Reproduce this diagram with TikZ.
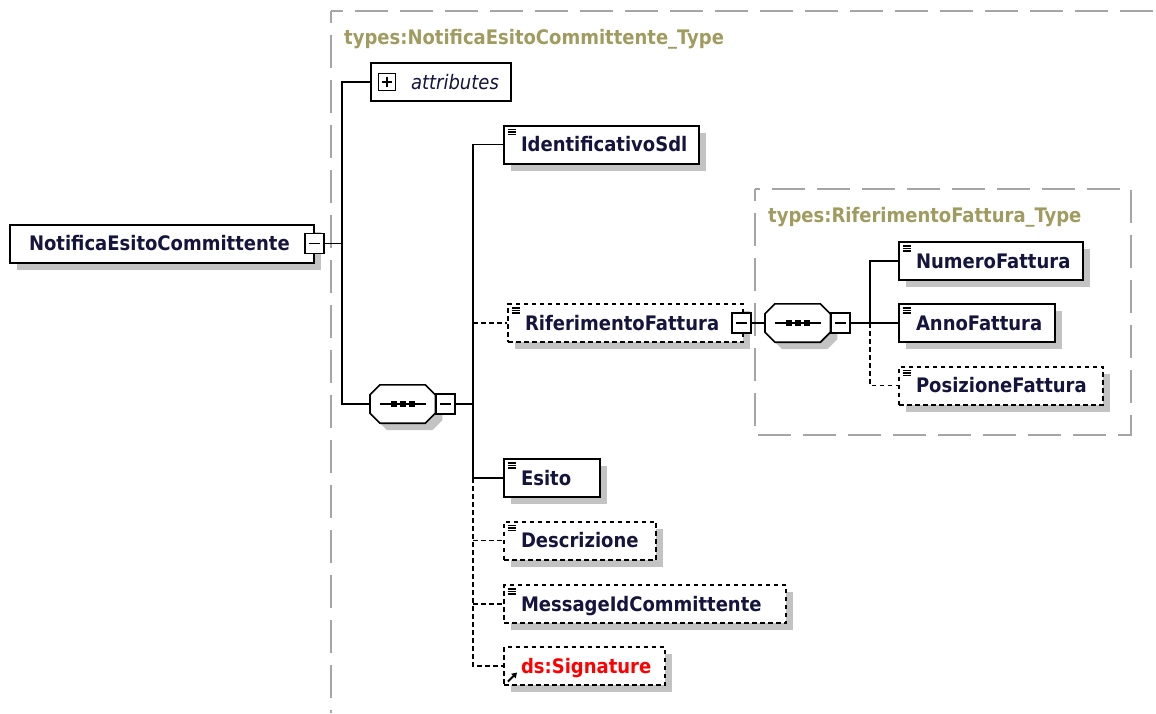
\documentclass[tikz,border=0pt]{standalone}
\usepackage{fontspec}
\newfontfamily\xsdfont{DejaVu Sans Condensed}
\usetikzlibrary{shadows,arrows.meta}
\definecolor{xsdtext}{RGB}{20,20,60}
\definecolor{xsdtitle}{RGB}{160,155,95}
\definecolor{xsdframe}{RGB}{165,165,165}
\definecolor{xsdshadow}{RGB}{195,195,195}
\definecolor{xsdred}{RGB}{255,0,0}

% octagon of a sequence compositor, #2 = extra shift
\newcommand{\octpath}[2]{([#2,xshift=10pt]#1.north west) -- ([#2,xshift=-10pt]#1.north east)
  -- ([#2,yshift=-10pt]#1.north east) -- ([#2,yshift=10pt]#1.south east)
  -- ([#2,xshift=-10pt]#1.south east) -- ([#2,xshift=10pt]#1.south west)
  -- ([#2,yshift=10pt]#1.south west) -- ([#2,yshift=-10pt]#1.north west) -- cycle}
\newcommand{\seqdraw}[1]{%
  \fill[xsdshadow] \octpath{#1}{xshift=7pt,yshift=-7pt};
  \filldraw[fill=white, line width=1.6pt] \octpath{#1}{xshift=0pt};
  \draw[line width=1.6pt] ([xshift=-23pt]#1.center) -- ([xshift=23pt]#1.center);
  \foreach \dx in {-9,0,9} \fill[black] ([xshift=\dx pt]#1.center) +(-3pt,-3pt) rectangle +(3pt,3pt);}

\tikzset{
  boxshadow/.style={drop shadow={shadow xshift=7pt, shadow yshift=-7pt, fill=xsdshadow, opacity=1}},
  xsdbox/.style={draw, line width=2pt, fill=white, anchor=west, minimum height=38pt,
    inner xsep=0pt, inner ysep=0pt, text width=#1, align=left, text height=14.5pt, text depth=0pt,
    font=\xsdfont\bfseries\fontsize{20pt}{24pt}\selectfont, text=xsdtext},
  elem/.style={xsdbox=#1, boxshadow, execute at begin node={\hspace*{17pt}},
    path picture={\foreach \dy in {4,6.5,9}
      \draw[solid, line width=1.1pt, black] ([xshift=3.5pt,yshift=-\dy pt]path picture bounding box.north west) -- ++(8pt,0pt);}},
  optelem/.style={elem=#1, dash pattern=on 4.5pt off 3.5pt},
  refelem/.style={xsdbox=#1, boxshadow, dash pattern=on 4.5pt off 3.5pt,
    execute at begin node={\hspace*{17pt}}, text=xsdred,
    path picture={\draw[solid, line width=1.8pt, black, -{Triangle[length=5pt,width=6pt]}]
      ([xshift=4pt,yshift=3.5pt]path picture bounding box.south west) -- ++(9pt,9pt);}},
  tog/.style={draw, fill=white, line width=1.6pt, minimum width=19pt, minimum height=20pt, inner sep=0pt,
    path picture={\draw[line width=1.6pt, black] ([xshift=4pt]path picture bounding box.west) -- ([xshift=-4pt]path picture bounding box.east);}},
  togplus/.style={tog, minimum width=17pt, minimum height=17pt,
    path picture={\draw[line width=1.6pt, black] ([xshift=3.5pt]path picture bounding box.west) -- ([xshift=-3.5pt]path picture bounding box.east);
      \draw[line width=1.6pt, black] ([yshift=-3.5pt]path picture bounding box.north) -- ([yshift=3.5pt]path picture bounding box.south);}},
  seqbox/.style={minimum width=65pt, minimum height=38pt, inner sep=0pt, anchor=west},
  frame/.style={xsdframe, line width=2pt, dash pattern=on 33pt off 12pt, dash phase=21pt},
  xsdtitle/.style={anchor=base west, inner sep=0pt, text=xsdtitle, font=\xsdfont\bfseries\fontsize{20pt}{24pt}\selectfont},
  conn/.style={line width=1.9pt, black},
  optconn/.style={conn, dash pattern=on 4.5pt off 3.5pt}
}

\begin{document}
\begin{tikzpicture}[x=1pt, y=-1pt]
  \useasboundingbox (0,0) rectangle (1156,713);

  % type frames
  \draw[frame] (331,11) -- (331,713);
  \draw[frame] (331,11) -- (1156,11);
  \draw[frame] (755,189) rectangle (1131,435);
  \node[xsdtitle] (outertitle) at (344,44) {types:NotificaEsitoCommittente\_Type};
  \node[xsdtitle] (innertitle) at (768,222) {types:RiferimentoFattura\_Type};

  % root element
  \node[xsdbox=304pt, boxshadow, execute at begin node={\hspace*{19pt}}] (root) at (9,243.5) {NotificaEsitoCommittente};
  \node[tog] (rootm) at ([xshift=-0.5pt]root.east) {};

  \node[draw, line width=2pt, fill=white, anchor=west, minimum height=38pt, inner xsep=0pt, inner ysep=0pt,
    text width=140pt, align=left, text height=14.5pt, text depth=0pt, text=xsdtext,
    font=\xsdfont\itshape\fontsize{20pt}{24pt}\selectfont, execute at begin node={\hspace*{40pt}}] (attr) at (370,82) {attributes};
  \node[togplus] (attrp) at (387,82) {};

  \node[seqbox] (seq1) at (370,404) {};
  \seqdraw{seq1}
  \node[tog, anchor=west] (seq1m) at (seq1.east) {};

  % children of the sequence
  \node[elem=195pt] (idsdl) at (503,144.5) {IdentificativoSdl};
  \node[optelem=235pt] (rif) at (507,323) {RiferimentoFattura};
  \node[tog] (rifm) at ([xshift=-2.5pt]rif.east) {};
  \node[elem=96pt] (esito) at (503,478) {Esito};
  \node[optelem=152pt] (descr) at (503,540.5) {Descrizione};
  \node[optelem=282pt] (msgid) at (503,604) {MessageIdCommittente};
  \node[refelem=161pt] (sig) at (503,666) {ds:Signature};

  % RiferimentoFattura_Type
  \node[seqbox] (seq2) at (765,323) {};
  \seqdraw{seq2}
  \node[tog, anchor=west] (seq2m) at (seq2.east) {};
  \node[elem=184pt] (numero) at (898,261) {NumeroFattura};
  \node[elem=156pt] (anno) at (898,323) {AnnoFattura};
  \node[optelem=204pt] (pos) at (898,385.5) {PosizioneFattura};

  % connectors
  \coordinate (b1) at (342,243.5);
  \draw[conn] (rootm.east) -- (b1);
  \draw[conn] (attr.west) -| (b1) |- (seq1.west);

  \coordinate (b2) at (473,404);
  \draw[conn] (seq1m.east) -- (b2);
  \draw[conn] (idsdl.west) -| (b2) |- (esito.west);
  \draw[optconn] (b2 |- rif.west) -- (rif.west);
  \draw[optconn] (b2 |- esito.west) |- (sig.west);
  \draw[optconn] (b2 |- descr.west) -- (descr.west);
  \draw[optconn] (b2 |- msgid.west) -- (msgid.west);

  \draw[conn] (rifm.east) -- (seq2.west);
  \coordinate (b3) at (870,323);
  \draw[conn] (seq2m.east) -- (b3);
  \draw[conn] (numero.west) -| (b3) -- (anno.west);
  \draw[optconn] (b3) |- (pos.west);
\end{tikzpicture}
\end{document}
